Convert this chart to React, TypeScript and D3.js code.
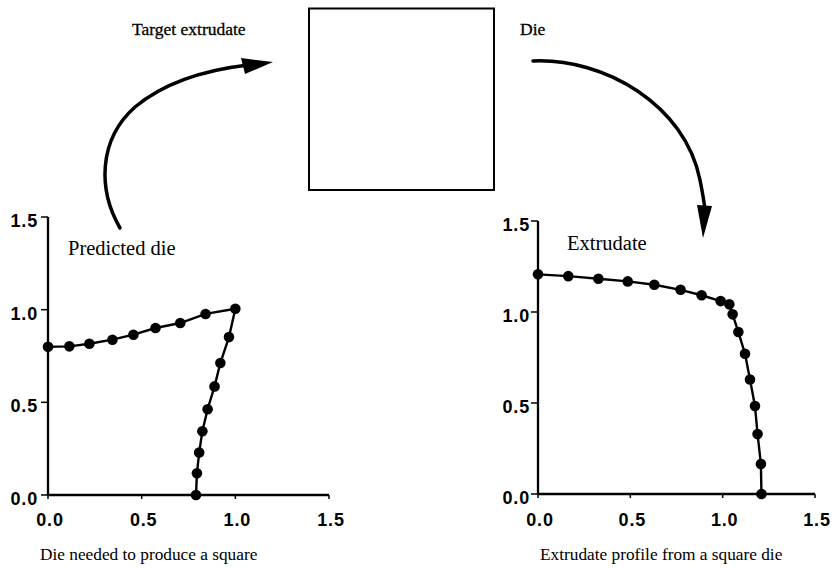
import React from "react";
import * as d3 from "d3";

const tickValues = [0, 0.5, 1.0, 1.5];
const tickLabels = ["0.0", "0.5", "1.0", "1.5"];

// Predicted die (left panel)
const dieX = [0, 0.114, 0.221, 0.344, 0.456, 0.574, 0.706, 0.841, 1.0, 0.966, 0.92, 0.889, 0.852, 0.824, 0.807, 0.795, 0.79];
const dieY = [0.8, 0.802, 0.816, 0.838, 0.865, 0.901, 0.928, 0.977, 1.005, 0.852, 0.712, 0.586, 0.463, 0.344, 0.229, 0.117, 0];

// Extrudate (right panel)
const extX = [0, 0.164, 0.327, 0.486, 0.63, 0.772, 0.886, 0.989, 1.036, 1.054, 1.085, 1.121, 1.148, 1.175, 1.189, 1.207, 1.21];
const extY = [1.207, 1.197, 1.183, 1.168, 1.15, 1.122, 1.092, 1.06, 1.042, 0.987, 0.89, 0.771, 0.629, 0.483, 0.329, 0.165, 0];

const serif = "'Liberation Serif', 'Times New Roman', serif";
const sans = "'Liberation Sans', Arial, Helvetica, sans-serif";

type PanelProps = {
  xs: number[];
  ys: number[];
  x0: number;
  x1: number;
  y0: number;
  y1: number;
  labelGap: number;
};

function Panel({ xs, ys, x0, x1, y0, y1, labelGap }: PanelProps) {
  const x = d3.scaleLinear().domain([0, 1.5]).range([x0, x1]);
  const y = d3.scaleLinear().domain([0, 1.5]).range([y0, y1]);
  const pts = xs.map((v, i) => [v, ys[i]] as [number, number]);
  const line = d3
    .line<[number, number]>()
    .x((d) => x(d[0]))
    .y((d) => y(d[1]));
  return (
    <g>
      <line x1={x(0)} x2={x(0)} y1={y(0)} y2={y(1.5)} stroke="#000" strokeWidth={2.3} />
      <line x1={x(0)} x2={x(1.5)} y1={y(0)} y2={y(0)} stroke="#000" strokeWidth={2.3} />
      {tickValues.map((t, i) => (
        <g key={"y" + i}>
          <line x1={x(0) - 7} x2={x(0)} y1={y(t)} y2={y(t)} stroke="#000" strokeWidth={1.5} />
          <text
            x={x(0) - labelGap}
            y={y(t) + 10}
            textAnchor="end"
            fontFamily={sans}
            fontWeight="bold"
            fontSize={18}
            letterSpacing={0.8}
          >
            {tickLabels[i]}
          </text>
        </g>
      ))}
      {tickValues.map((t, i) => (
        <g key={"x" + i}>
          <line x1={x(t)} x2={x(t)} y1={y(0)} y2={y(0) + 4} stroke="#000" strokeWidth={1.5} />
          <text
            x={x(t) + 2}
            y={526}
            textAnchor="middle"
            fontFamily={sans}
            fontWeight="bold"
            fontSize={18}
            letterSpacing={0.8}
          >
            {tickLabels[i]}
          </text>
        </g>
      ))}
      <path d={line(pts) || ""} fill="none" stroke="#000" strokeWidth={2.4} />
      {pts.map((p, i) => (
        <circle key={i} cx={x(p[0])} cy={y(p[1])} r={5.3} fill="#000" />
      ))}
    </g>
  );
}

export default function App() {
  return (
    <svg width={835} height={569} style={{ position: "absolute", left: 0, top: 0, background: "#fff" }}>
      <rect x={0} y={0} width={835} height={569} fill="#fff" />
      <rect x={309} y={8.5} width={185} height={181.5} fill="none" stroke="#000" strokeWidth={2} />
      <text x={132} y={35} fontFamily={serif} fontSize={17.5} stroke="#000" strokeWidth={0.3}>Target extrudate</text>
      <text x={520} y={35} fontFamily={serif} fontSize={17.5} stroke="#000" strokeWidth={0.3}>Die</text>

      <path d="M120,228 C98,190 98,140 135,107 C165,82 205,70 248,65" fill="none" stroke="#000" strokeWidth={3.5} strokeLinecap="round" />
      <polygon points="273,62 241,58 245,74" fill="#000" />

      <path d="M533,61 C605,58 685,105 700,180 C703,195 704,200 705,210" fill="none" stroke="#000" strokeWidth={3.5} strokeLinecap="round" />
      <polygon points="703,238 697,205 712,206" fill="#000" />

      <Panel xs={dieX} ys={dieY} x0={48} x1={329} y0={495} y1={217} labelGap={10} />
      <Panel xs={extX} ys={extY} x0={538} x1={815} y0={494} y1={221} labelGap={8} />

      <text x={68} y={255} fontFamily={serif} fontSize={20.5}>Predicted die</text>
      <text x={567} y={250} fontFamily={serif} fontSize={20.5}>Extrudate</text>

      <text x={40} y={560} fontFamily={serif} fontSize={17.3}>Die needed to produce a square</text>
      <text x={540} y={560} fontFamily={serif} fontSize={17.3}>Extrudate profile from a square die</text>
    </svg>
  );
}
